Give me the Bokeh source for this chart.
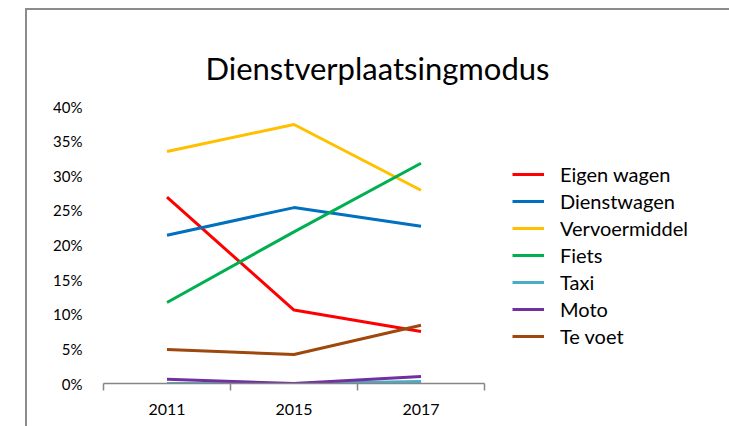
from bokeh.plotting import figure
from bokeh.models import (Range1d, FixedTicker, Legend, LegendItem)
from bokeh.embed import file_html
from bokeh.resources import INLINE

years = ["2011", "2015", "2017"]
eigen_wagen = [0.269, 0.106, 0.075]
dienstwagen = [0.214, 0.254, 0.227]
vervoermiddel = [0.335, 0.374, 0.279]
fiets = [0.117, 0.219, 0.318]
taxi = [0.0, 0.0, 0.003]
moto = [0.006, 0.0, 0.010]
te_voet = [0.049, 0.042, 0.084]

series_names = ["Eigen wagen", "Dienstwagen", "Vervoermiddel", "Fiets", "Taxi", "Moto", "Te voet"]
series_values = [eigen_wagen, dienstwagen, vervoermiddel, fiets, taxi, moto, te_voet]
colors = ["#FF0000", "#0070C0", "#FFC000", "#00B050", "#4BACC6", "#7030A0", "#9E480E"]
y_ticks = [0.0, 0.05, 0.10, 0.15, 0.20, 0.25, 0.30, 0.35, 0.40]

FONT = "Lato"

W, H = 729, 426
LEFT, TOP, BOTTOM = 103, 106, 43
PLOT_W = 381  # pixel width of the category area
n = len(years)
x_end = n * (W - LEFT) / PLOT_W

p = figure(width=W, height=H, output_backend="svg", toolbar_location=None,
           x_range=Range1d(0, x_end), y_range=Range1d(0, 0.4),
           min_border_left=LEFT, min_border_right=0, min_border_top=TOP, min_border_bottom=BOTTOM,
           title="Dienstverplaatsingmodus")
p.outline_line_color = None
p.xgrid.visible = False
p.ygrid.visible = False
p.background_fill_color = None
p.border_fill_color = None
p.styles = {
    "background": ("linear-gradient(#8c8c8c,#8c8c8c) 25px 8px / 704px 2px no-repeat, "
                   "linear-gradient(#8c8c8c,#8c8c8c) 25px 8px / 2px 418px no-repeat, white")
}

p.title.text_font = FONT
p.title.text_font_size = "31px"
p.title.text_font_style = "normal"
p.title.text_color = "#000000"
p.title.align = "left"
p.title.offset = 102
p.title.standoff = 40
p.title.text_line_height = 0.8

xs = [i + 0.5 for i in range(n)]
items = []
for name, vals, c in zip(series_names, series_values, colors):
    r = p.line(xs, vals, line_color=c, line_width=3)
    items.append(LegendItem(label=name, renderers=[r]))

# x axis
xa = p.xaxis[0]
xa.bounds = (0, n)
xa.ticker = FixedTicker(ticks=xs, minor_ticks=list(range(n + 1)))
xa.major_label_overrides = {x: y for x, y in zip(xs, years)}
xa.major_tick_out = 0
xa.major_tick_in = 0
xa.minor_tick_out = 7
xa.minor_tick_in = 0
xa.minor_tick_line_color = "#868686"
xa.minor_tick_line_width = 1.5
xa.axis_line_color = "#868686"
xa.axis_line_width = 1.5
xa.major_label_text_font = FONT
xa.major_label_text_font_size = "16px"
xa.major_label_text_color = "#000000"
xa.major_label_standoff = 13

# y axis
ya = p.yaxis[0]
ya.ticker = FixedTicker(ticks=y_ticks)
ya.major_label_overrides = {t: f"{round(t*100)}%" for t in y_ticks}
ya.axis_line_color = None
ya.major_tick_line_color = None
ya.minor_tick_line_color = None
ya.major_label_text_font = FONT
ya.major_label_text_font_size = "15px"
ya.major_label_text_color = "#000000"
ya.major_label_standoff = 15

legend = Legend(items=items, location=(409, 35), padding=0, margin=0,
                border_line_color=None, background_fill_alpha=0,
                glyph_width=32, glyph_height=20, label_height=20, spacing=3,
                label_standoff=16, label_text_font=FONT, label_text_font_size="20px",
                label_text_color="#000000")
p.add_layout(legend, "center")

open("out.html", "w").write(file_html(p, INLINE))
